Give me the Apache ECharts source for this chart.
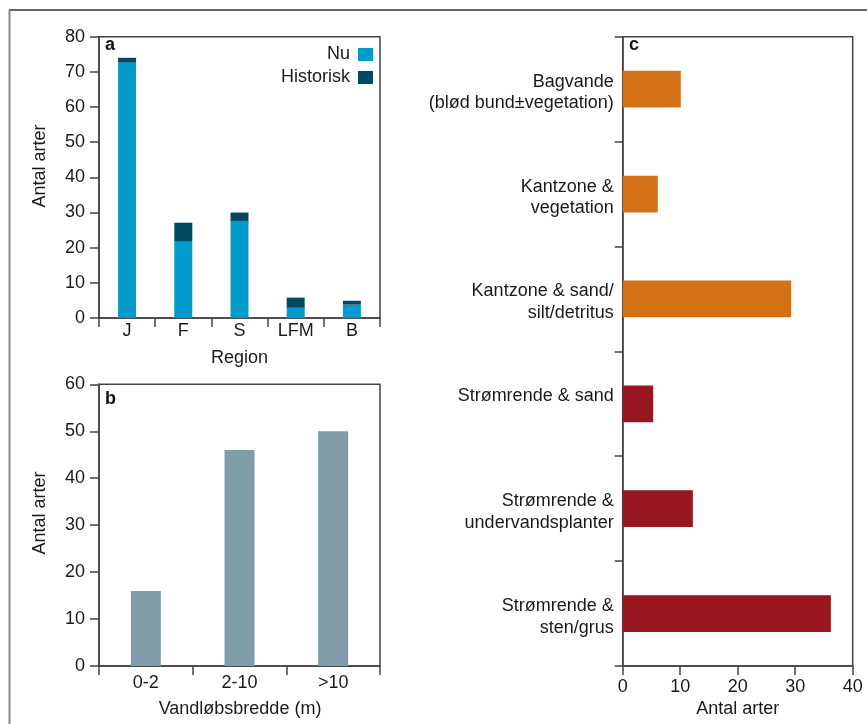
<!DOCTYPE html>
<html>
<head>
<meta charset="utf-8">
<script src="https://cdn.jsdelivr.net/npm/echarts@6/dist/echarts.min.js"></script>
<style>
  html, body { margin: 0; padding: 0; background: #fff; }
  #chart { width: 867px; height: 724px; }
</style>
</head>
<body>
<div id="chart"></div>
<script>
// Panel a: species per region, current vs. historic only
const regions = ['J', 'F', 'S', 'LFM', 'B'];
const nuCounts = [72.6, 21.7, 27.6, 2.9, 3.8];
const historiskCounts = [1.4, 5.4, 2.4, 2.9, 1.1];

// Panel b: species by stream width
const widthClasses = ['0-2', '2-10', '>10'];
const widthCounts = [16, 46, 50];

// Panel c: species by habitat
const habitats = [
  'Bagvande\n(blød bund±vegetation)',
  'Kantzone &\nvegetation',
  'Kantzone & sand/\nsilt/detritus',
  'Strømrende & sand',
  'Strømrende &\nundervandsplanter',
  'Strømrende &\nsten/grus'
];
const habitatCounts = [10.1, 6.1, 29.3, 5.3, 12.2, 36.2];

// Tick values
const ticksA = [0, 10, 20, 30, 40, 50, 60, 70, 80];
const ticksB = [0, 10, 20, 30, 40, 50, 60];
const ticksC = [0, 10, 20, 30, 40];

const FONT = "'Liberation Sans', Arial, sans-serif";
const FS = 18;
const TXT = '#1a1a1a';
const FRAME = '#444';
const C_NU = '#009ACB';
const C_HIST = '#004A62';
const C_WIDTH = '#829DAA';
const C_KANT = '#D47015';
const C_STROM = '#98161E';

const axisLine = { show: true, lineStyle: { color: FRAME, width: 1.5 } };
const tick = (len) => ({ show: true, inside: false, length: len, lineStyle: { color: FRAME, width: 1.5 } });
const lbl = (margin, extra) => Object.assign({ margin, fontSize: FS, color: TXT, fontFamily: FONT }, extra || {});

const chart = echarts.init(document.getElementById('chart'), null, { renderer: 'canvas' });

chart.setOption({
  animation: false,
  textStyle: { fontFamily: FONT },
  grid: [
    { left: 99, top: 36.7, width: 281, height: 281.3, show: true, borderColor: FRAME, borderWidth: 1.5, containLabel: false },
    { left: 99, top: 384.3, width: 281, height: 281.7, show: true, borderColor: FRAME, borderWidth: 1.5, containLabel: false },
    { left: 622.7, top: 36.7, width: 230, height: 629.3, show: true, borderColor: FRAME, borderWidth: 1.5, containLabel: false }
  ],
  legend: {
    data: ['Nu', 'Historisk'],
    orient: 'vertical',
    right: 494,
    top: 45.5,
    align: 'right',
    icon: 'rect',
    itemWidth: 15,
    itemHeight: 13,
    itemGap: 5,
    padding: 0,
    selectedMode: false,
    textStyle: { fontSize: FS, color: TXT, fontFamily: FONT, lineHeight: 18, padding: [0, 3, 0, 0] }
  },
  xAxis: [
    {
      type: 'category', gridIndex: 0, data: regions,
      axisLine, axisTick: tick(9),
      axisLabel: lbl(4, { interval: 0 })
    },
    {
      type: 'category', gridIndex: 1, data: widthClasses,
      axisLine, axisTick: tick(9),
      axisLabel: lbl(8, { interval: 0 })
    },
    {
      type: 'value', gridIndex: 2,
      min: ticksC[0], max: ticksC[ticksC.length - 1], interval: ticksC[1] - ticksC[0],
      axisLine, axisTick: tick(9), splitLine: { show: false },
      axisLabel: lbl(12)
    }
  ],
  yAxis: [
    {
      type: 'value', gridIndex: 0,
      min: ticksA[0], max: ticksA[ticksA.length - 1], interval: ticksA[1] - ticksA[0],
      axisLine, axisTick: tick(9), splitLine: { show: false },
      axisLabel: lbl(14)
    },
    {
      type: 'value', gridIndex: 1,
      min: ticksB[0], max: ticksB[ticksB.length - 1], interval: ticksB[1] - ticksB[0],
      axisLine, axisTick: tick(9), splitLine: { show: false },
      axisLabel: lbl(14)
    },
    {
      type: 'category', gridIndex: 2, data: habitats, inverse: true,
      axisLine, axisTick: tick(8),
      axisLabel: lbl(9, { interval: 0, align: 'right', verticalAlign: 'top', lineHeight: 21.7, padding: [-18.3, 0, 0, 0] })
    }
  ],
  series: [
    {
      name: 'Nu', type: 'bar', stack: 'region', xAxisIndex: 0, yAxisIndex: 0,
      barWidth: 18, itemStyle: { color: C_NU }, data: nuCounts
    },
    {
      name: 'Historisk', type: 'bar', stack: 'region', xAxisIndex: 0, yAxisIndex: 0,
      barWidth: 18, itemStyle: { color: C_HIST }, data: historiskCounts
    },
    {
      name: 'Vandløbsbredde', type: 'bar', xAxisIndex: 1, yAxisIndex: 1,
      barWidth: 30, itemStyle: { color: C_WIDTH }, data: widthCounts
    },
    {
      name: 'Habitat', type: 'bar', xAxisIndex: 2, yAxisIndex: 2,
      barWidth: 36.7,
      itemStyle: { color: (p) => (p.dataIndex < 3 ? C_KANT : C_STROM) },
      data: habitatCounts
    }
  ],
  graphic: [
    // outer figure frame
    { type: 'line', shape: { x1: 9, y1: 10, x2: 867, y2: 10 }, style: { stroke: '#333', lineWidth: 1.3 }, silent: true },
    { type: 'line', shape: { x1: 9.5, y1: 10, x2: 9.5, y2: 724 }, style: { stroke: '#888', lineWidth: 2 }, silent: true },
    // panel letters
    { type: 'text', x: 105, y: 45, style: { text: 'a', font: "bold 18px " + FONT, fill: '#111', verticalAlign: 'middle' } },
    { type: 'text', x: 105, y: 399, style: { text: 'b', font: "bold 18px " + FONT, fill: '#111', verticalAlign: 'middle' } },
    { type: 'text', x: 629, y: 45, style: { text: 'c', font: "bold 18px " + FONT, fill: '#111', verticalAlign: 'middle' } },
    // axis titles
    { type: 'text', x: 40, y: 166, rotation: Math.PI / 2, style: { text: 'Antal arter', font: "18px " + FONT, fill: TXT, align: 'center', verticalAlign: 'middle' } },
    { type: 'text', x: 40, y: 513, rotation: Math.PI / 2, style: { text: 'Antal arter', font: "18px " + FONT, fill: TXT, align: 'center', verticalAlign: 'middle' } },
    { type: 'text', x: 239.5, y: 358, style: { text: 'Region', font: "18px " + FONT, fill: TXT, align: 'center', verticalAlign: 'middle' } },
    { type: 'text', x: 240, y: 709, style: { text: 'Vandløbsbredde (m)', font: "18px " + FONT, fill: TXT, align: 'center', verticalAlign: 'middle' } },
    { type: 'text', x: 737.7, y: 709, style: { text: 'Antal arter', font: "18px " + FONT, fill: TXT, align: 'center', verticalAlign: 'middle' } }
  ]
});
</script>
</body>
</html>
